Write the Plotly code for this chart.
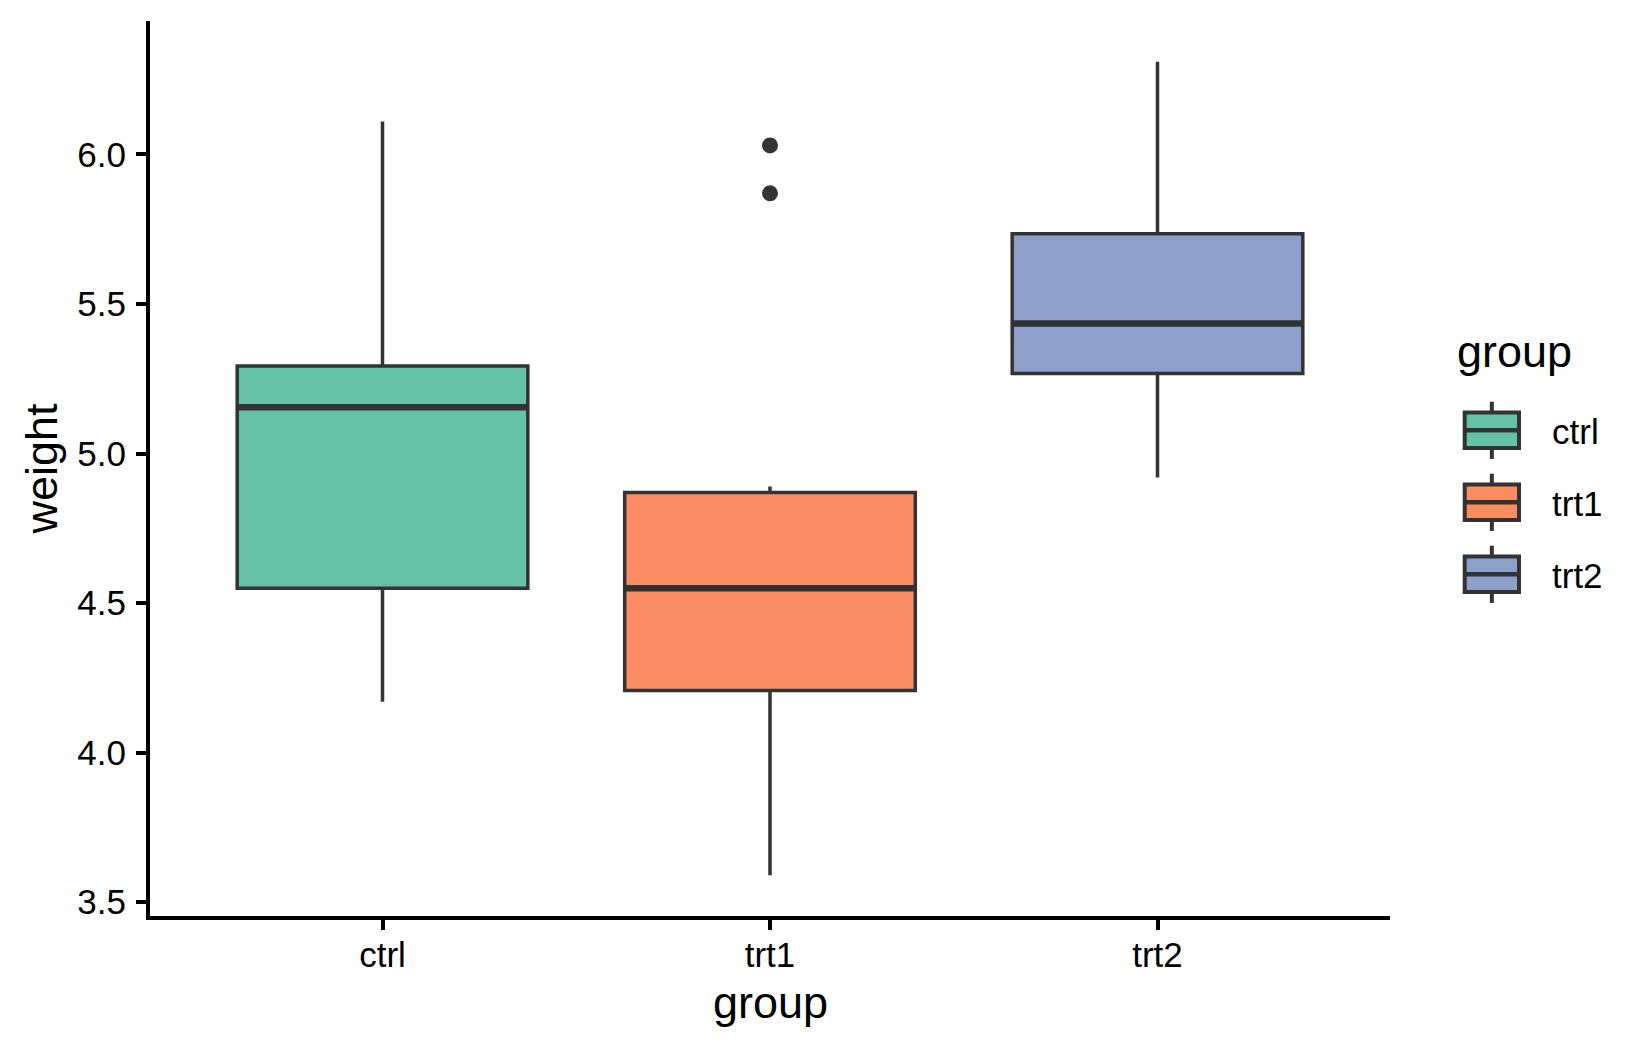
import plotly.graph_objects as go

# ---- data (PlantGrowth box statistics) ----
groups = ["ctrl", "trt1", "trt2"]
q1 = [4.55, 4.2075, 5.2675]
medians = [5.155, 4.55, 5.435]
q3 = [5.2925, 4.87, 5.735]
lower_whisker = [4.17, 3.59, 4.92]
upper_whisker = [6.11, 4.89, 6.31]
outlier_group = ["trt1", "trt1"]
outlier_values = [5.87, 6.03]
y_ticks = [3.5, 4.0, 4.5, 5.0, 5.5, 6.0]
y_tick_labels = ["3.5", "4.0", "4.5", "5.0", "5.5", "6.0"]

fills = ["#66C2A5", "#FC8D62", "#8DA0CB"]
edge = "#333333"
FONT = "Liberation Sans, Arial, sans-serif"
BOX_W = 0.75
TICK_FS = 35
TITLE_FS = 45

# page body has an 8px margin -> figure slightly smaller than the window
W, H = 1642, 1042
ML, MR, MT, MB = 142, 260, 13, 134
PW, PH = W - ML - MR, H - MT - MB


def px_x(p):
    return (p - ML) / PW


def px_y(p):
    return (H - MB - p) / PH


fig = go.Figure()
pos = {g: i + 1 for i, g in enumerate(groups)}

for i, g in enumerate(groups):
    fig.add_trace(go.Box(
        x=[pos[g]], q1=[q1[i]], median=[medians[i]], q3=[q3[i]],
        lowerfence=[lower_whisker[i]], upperfence=[upper_whisker[i]],
        width=BOX_W, whiskerwidth=0, fillcolor=fills[i],
        line=dict(color=edge, width=3.5), boxpoints=False,
        showlegend=False, name=g, hoverinfo="skip",
    ))
    # thicker median line as in ggplot
    fig.add_trace(go.Scatter(
        x=[pos[g] - BOX_W / 2, pos[g] + BOX_W / 2], y=[medians[i], medians[i]],
        mode="lines", line=dict(color=edge, width=6.5), showlegend=False,
        hoverinfo="skip",
    ))

fig.add_trace(go.Scatter(
    x=[pos[g] for g in outlier_group], y=outlier_values, mode="markers",
    marker=dict(color=edge, size=16, line=dict(width=0)), showlegend=False,
    hoverinfo="skip",
))

ymin = min(lower_whisker + outlier_values)
ymax = max(upper_whisker + outlier_values)
pad = (ymax - ymin) * 0.05

fig.update_layout(
    width=W, height=H,
    margin=dict(l=ML, r=MR, t=MT, b=MB, autoexpand=False),
    paper_bgcolor="white", plot_bgcolor="white",
    font=dict(family=FONT, color="black"),
    xaxis=dict(
        range=[0.4, 3.6], tickvals=[1, 2, 3], ticktext=groups,
        showline=True, linecolor="black", linewidth=4,
        ticks="outside", ticklen=10, tickwidth=4, tickcolor="black",
        ticklabelstandoff=-5,
        tickfont=dict(size=TICK_FS, color="black"), showgrid=False, zeroline=False,
    ),
    yaxis=dict(
        range=[ymin - pad, ymax + pad], tickvals=y_ticks, ticktext=y_tick_labels,
        showline=True, linecolor="black", linewidth=4,
        ticks="outside", ticklen=10, tickwidth=4, tickcolor="black",
        ticklabelstandoff=3,
        tickfont=dict(size=TICK_FS, color="black"), showgrid=False, zeroline=False,
    ),
)

# axis titles
fig.add_annotation(text="group", x=0.5, y=px_y(967), xref="paper", yref="paper",
                   xanchor="center", yanchor="top", showarrow=False,
                   font=dict(size=TITLE_FS, family=FONT, color="black"))
fig.add_annotation(text="weight", x=px_x(33), y=0.5, xref="paper", yref="paper",
                   xanchor="center", yanchor="middle", textangle=-90, showarrow=False,
                   font=dict(size=TITLE_FS, family=FONT, color="black"))

# legend (ggplot-style keys)
fig.add_annotation(text="group", x=px_x(1447), y=px_y(343), xref="paper", yref="paper",
                   xanchor="left", yanchor="middle", showarrow=False,
                   font=dict(size=TITLE_FS, family=FONT, color="black"))
key_x0, key_x1 = 1456.7, 1511
key_cx = (key_x0 + key_x1) / 2
for i, g in enumerate(groups):
    cy = 422.3 + 72 * i
    fig.add_shape(type="line", xref="paper", yref="paper",
                  x0=px_x(key_cx), x1=px_x(key_cx), y0=px_y(cy - 28.6), y1=px_y(cy + 28.6),
                  line=dict(color=edge, width=4))
    fig.add_shape(type="rect", xref="paper", yref="paper",
                  x0=px_x(key_x0), x1=px_x(key_x1), y0=px_y(cy - 17.7), y1=px_y(cy + 17.7),
                  fillcolor=fills[i], line=dict(color=edge, width=4))
    fig.add_shape(type="line", xref="paper", yref="paper",
                  x0=px_x(key_x0), x1=px_x(key_x1), y0=px_y(cy), y1=px_y(cy),
                  line=dict(color=edge, width=4.5))
    fig.add_annotation(text=g, x=px_x(1542), y=px_y(cy + 1), xref="paper", yref="paper",
                       xanchor="left", yanchor="middle", showarrow=False,
                       font=dict(size=TICK_FS, family=FONT, color="black"))

fig.write_html("out.html")
